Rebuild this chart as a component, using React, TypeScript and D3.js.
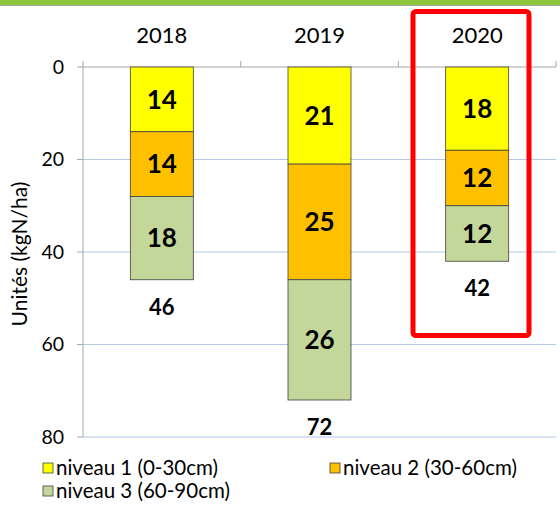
import React from "react";
import * as d3 from "d3";

const years = ["2018", "2019", "2020"];
const niveau1 = [14, 21, 18];
const niveau2 = [14, 25, 12];
const niveau3 = [18, 26, 12];
const totals = [46, 72, 42];
const seriesNames = ["niveau 1 (0-30cm)", "niveau 2 (30-60cm)", "niveau 3 (60-90cm)"];
const seriesColors = ["#ffff00", "#ffc000", "#c4d79b"];
const yTicks = [0, 20, 40, 60, 80];

const W = 560, H = 506;
const left = 83, right = 556, top = 67, bottom = 437;
const FONT = "Lato, 'Open Sans', sans-serif";

export default function App() {
  const xOuter = d3.scaleBand().domain(years).range([left, right]);
  const y = d3.scaleLinear().domain([0, 80]).range([top, bottom]);
  const rows = years.map((yr, i) => ({ yr, vals: [niveau1[i], niveau2[i], niveau3[i]] }));
  const stack = d3.stack<any>().keys(["0", "1", "2"]).value((d, k) => d.vals[+k]);
  const stacked = stack(rows as any);
  const bw = 63;
  const legend = [
    { x: 43, y: 468, i: 0 },
    { x: 330, y: 468, i: 1 },
    { x: 43, y: 491, i: 2 },
  ];
  return (
    <svg width={W} height={H} style={{ position: "absolute", left: 0, top: 0, display: "block", fontFamily: FONT }}>
      <rect x={0} y={0} width={W} height={H} fill="#fff" />
      <rect x={0} y={0} width={W} height={5} fill="#8dc63f" />
      <line x1={0} x2={W} y1={5.5} y2={5.5} stroke="#a6a6a6" strokeWidth={1} />
      {yTicks.filter(t => t > 0).map(t => (
        <line key={t} x1={left} x2={right} y1={y(t)} y2={y(t)} stroke="#b4c7e7" strokeWidth={1} />
      ))}
      <line x1={left} x2={left} y1={top} y2={bottom} stroke="#a6a6a6" />
      <line x1={left} x2={right} y1={top} y2={top} stroke="#a6a6a6" />
      {yTicks.map(t => (
        <g key={t}>
          <line x1={left - 6} x2={left} y1={y(t)} y2={y(t)} stroke="#a6a6a6" />
          <text x={64} y={y(t)} dy="0.35em" textAnchor="end" fontSize={19.5} fill="#000">{t}</text>
        </g>
      ))}
      {years.map(yr => (
        <line key={yr} x1={xOuter(yr)!} x2={xOuter(yr)!} y1={top} y2={top - 6} stroke="#a6a6a6" />
      ))}
      <line x1={right} x2={right} y1={top} y2={top - 6} stroke="#a6a6a6" />
      {years.map(yr => (
        <text key={yr} x={xOuter(yr)! + xOuter.bandwidth() / 2} y={35} dy="0.35em" textAnchor="middle" fontSize={22} fill="#000">{yr}</text>
      ))}
      <text transform={`translate(20,${(top + bottom) / 2 + 2}) rotate(-90)`} textAnchor="middle" dy="0.35em" fontSize={21} fill="#000">Unités (kgN/ha)</text>
      {stacked.map((s, si) => (
        <g key={si}>
          {s.map((d, i) => {
            const cx = xOuter(years[i])! + xOuter.bandwidth() / 2;
            return (
              <g key={i}>
                <rect x={cx - bw / 2} y={y(d[0])} width={bw} height={y(d[1]) - y(d[0])} fill={seriesColors[si]} stroke="#404040" strokeWidth={0.8} />
                <text x={cx} y={(y(d[0]) + y(d[1])) / 2} dy="0.36em" textAnchor="middle" fontSize={26} fontWeight="bold" fill="#000">{d[1] - d[0]}</text>
              </g>
            );
          })}
        </g>
      ))}
      {totals.map((t, i) => (
        <text key={i} x={xOuter(years[i])! + xOuter.bandwidth() / 2} y={y(t) + 27} dy="0.36em" textAnchor="middle" fontSize={22} fontWeight="bold" fill="#000">{t}</text>
      ))}
      <rect x={413} y={11.5} width={116} height={324} rx={3} fill="none" stroke="#ff0000" strokeWidth={5} />
      {legend.map(l => (
        <g key={l.i}>
          <rect x={l.x} y={l.y - 5} width={10} height={10} fill={seriesColors[l.i]} stroke="#404040" strokeWidth={0.8} />
          <text x={l.x + 13} y={l.y} dy="0.35em" fontSize={20.5} fill="#000">{seriesNames[l.i]}</text>
        </g>
      ))}
    </svg>
  );
}
